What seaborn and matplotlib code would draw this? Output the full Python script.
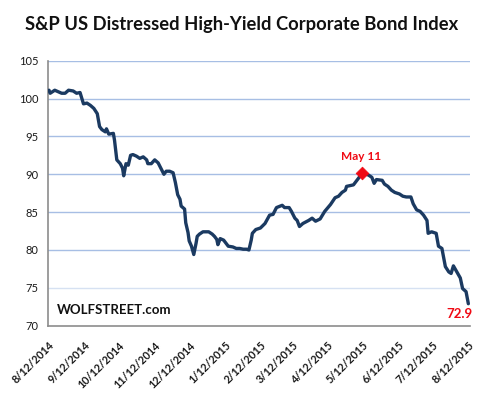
import matplotlib
matplotlib.use("Agg")
import matplotlib.pyplot as plt
import seaborn as sns
import pandas as pd

# ---------------- data ----------------
start_date = "2014-08-12"
day_offsets = [0, 1, 5, 8, 11, 14, 17, 21, 24, 27, 30, 33, 36, 39, 42, 44, 46, 49, 50, 52,
               56, 57, 59, 62, 64, 65, 67, 69, 71, 73, 76, 79, 82, 85, 86, 89, 92, 95, 98, 100,
               102, 105, 108, 110, 112, 114, 115, 118, 119, 121, 122, 124, 126, 128, 129, 131, 134, 139, 142, 144,
               146, 147, 149, 152, 154, 156, 160, 163, 166, 169, 172, 174, 176, 177, 180, 184, 188, 192, 195, 198,
               203, 205, 209, 211, 214, 216, 218, 221, 226, 229, 232, 236, 240, 245, 249, 252, 255, 258, 259, 262,
               265, 268, 270, 272, 278, 281, 283, 285, 290, 292, 295, 298, 301, 305, 308, 311, 315, 317, 320, 323,
               326, 329, 330, 333, 337, 339, 342, 345, 348, 350, 352, 355, 358, 360, 363, 365]
index_values = [101.1, 100.7, 101.1, 100.9, 100.7, 100.7, 101.1, 101.0, 100.7, 100.8, 99.3, 99.4, 99.1, 98.7, 98.0, 96.3, 95.9, 95.6, 96.0, 95.3,
                95.4, 94.5, 91.9, 91.4, 90.8, 89.8, 91.4, 91.2, 92.5, 92.6, 92.4, 92.1, 92.3, 91.9, 91.4, 91.4, 91.9, 91.5, 90.6, 90.0,
                90.4, 90.4, 90.2, 88.9, 87.3, 86.7, 85.8, 85.4, 83.6, 82.3, 81.2, 80.5, 79.4, 80.9, 81.8, 82.1, 82.4, 82.4, 82.1, 81.8,
                81.4, 80.7, 81.5, 81.3, 80.9, 80.5, 80.4, 80.2, 80.2, 80.1, 80.1, 80.0, 81.3, 82.2, 82.7, 82.9, 83.5, 84.6, 84.7, 85.6,
                85.9, 85.6, 85.6, 85.1, 84.2, 83.9, 83.1, 83.5, 83.9, 84.2, 83.8, 84.1, 85.1, 86.0, 86.9, 87.1, 87.6, 87.9, 88.4, 88.5,
                88.6, 89.2, 89.6, 90.2, 89.9, 89.6, 88.8, 89.3, 89.2, 88.7, 88.4, 87.9, 87.6, 87.4, 87.1, 87.0, 87.0, 86.1, 85.3, 85.1,
                84.6, 83.9, 82.2, 82.4, 82.2, 80.5, 80.2, 77.8, 77.1, 76.9, 77.9, 77.1, 76.3, 74.9, 74.5, 72.9]
peak_date = "2015-05-11"
peak_label = "May 11"
last_label = "72.9"
tick_labels = ["8/12/2014", "9/12/2014", "10/12/2014", "11/12/2014", "12/12/2014", "1/12/2015",
               "2/12/2015", "3/12/2015", "4/12/2015", "5/12/2015", "6/12/2015", "7/12/2015", "8/12/2015"]
y_ticks = [70, 75, 80, 85, 90, 95, 100, 105]
title = "S&P US Distressed High-Yield Corporate Bond Index"
watermark = "WOLFSTREET.com"

# ---------------- figure ----------------
sns.set_style("white")
plt.rcParams["font.family"] = ["Lato", "DejaVu Sans"]

df = pd.DataFrame({
    "date": pd.Timestamp(start_date) + pd.to_timedelta(day_offsets, unit="D"),
    "value": index_values,
})
peak = df[df["date"] == pd.Timestamp(peak_date)]
last = df.iloc[-1]

fig = plt.figure(figsize=(4.78, 3.98), dpi=100)
ax = fig.add_axes([0.1004, 0.1817, 0.883, 0.6658])

grid_blue = "#A7BEE4"
for yv in y_ticks[1:]:
    ax.axhline(yv, color=grid_blue if yv != 75 else "#D6E1F2", lw=1, zorder=0)

sns.lineplot(data=df, x="date", y="value", ax=ax, color="#1B3A61", linewidth=2.4, zorder=3)
sns.scatterplot(data=peak, x="date", y="value", ax=ax, marker="D", s=42, color="#F00A14",
                edgecolor="#F00A14", zorder=4)

ax.set_ylim(70, 105)
ax.set_yticks(y_ticks)
ax.set_yticklabels([str(v) for v in y_ticks])
tick_dates = pd.to_datetime(tick_labels, format="%m/%d/%Y")
ax.set_xlim(tick_dates[0] - pd.Timedelta(days=0.9), tick_dates[-1] + pd.Timedelta(days=1.5))
ax.set_xticks(tick_dates)
ax.set_xticklabels(tick_labels, rotation=45, ha="right", rotation_mode="anchor",
                   fontweight="bold", fontsize=7.8, color="#1a1a1a")
ax.set_xlabel("")
ax.set_ylabel("")

for s in ["top", "right"]:
    ax.spines[s].set_visible(False)
for s in ["left", "bottom"]:
    ax.spines[s].set_color("#8C8C8C")
    ax.spines[s].set_linewidth(1.2)
ax.tick_params(axis="x", length=4, width=1.1, color="#8C8C8C", direction="out", pad=6)
ax.tick_params(axis="y", length=4, width=1.1, color="#8C8C8C", direction="out", pad=3,
               labelsize=8, labelcolor="#1a1a1a")

ax.annotate(peak_label, (peak["date"].iloc[0], peak["value"].iloc[0]), xytext=(0, 7.5),
            textcoords="offset points", ha="center", va="bottom", color="#F00A14",
            fontweight="bold", fontsize=8.5)
ax.annotate(last_label, (last["date"], 70), xytext=(3, 4), textcoords="offset points",
            ha="right", va="bottom", color="#F00A14", fontweight="bold", fontsize=9.5)
ax.text(0.022, 0.035, watermark, transform=ax.transAxes, ha="left", va="bottom",
        fontweight="bold", fontsize=9.5, color="#111111")

fig.text(0.505, 0.938, title, ha="center", va="center", fontweight="bold", fontsize=13.2,
         color="#111111")

fig.savefig("out.png", dpi=100)
